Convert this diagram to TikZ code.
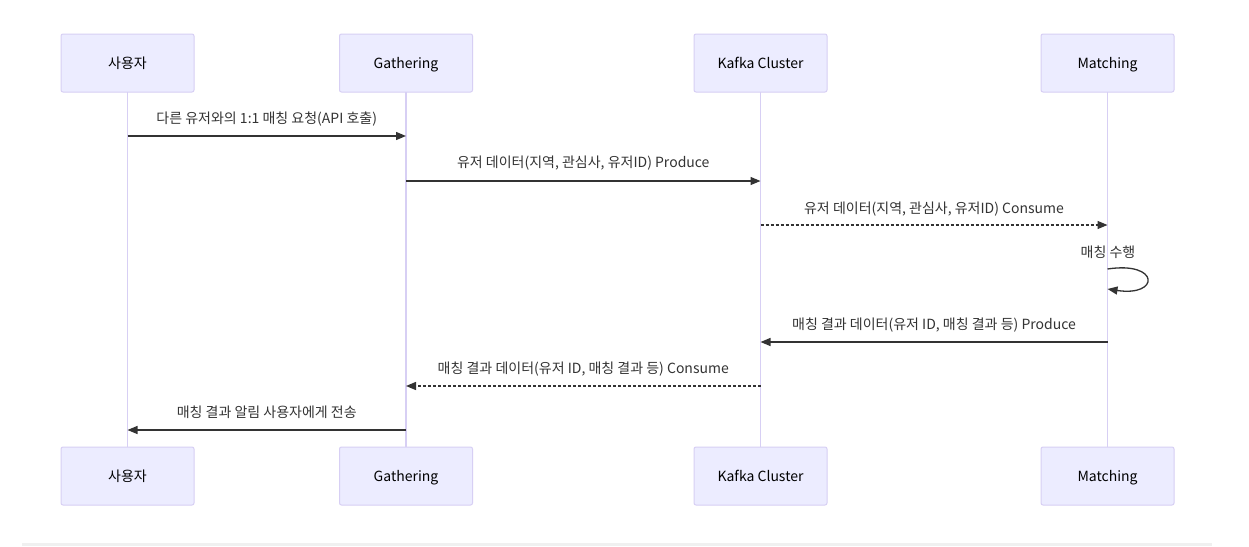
\documentclass[tikz,border=0pt]{standalone}
\usepackage{fontspec}
\setmainfont{Noto Sans CJK KR}
\usetikzlibrary{arrows.meta}
\definecolor{actfill}{HTML}{ECECFF}
\definecolor{actline}{HTML}{D7CFF4}
\definecolor{txt}{HTML}{333333}
\tikzset{
  actor/.style={draw=actline, fill=actfill, line width=1pt, rounded corners=2pt,
    minimum width=133pt, minimum height=58pt, inner sep=0pt, text height=11pt, text depth=1pt,
    font=\fontsize{14}{16}\selectfont, text=black},
  life/.style={draw=actline, line width=1.4pt},
  msg/.style={draw=txt, line width=1.3pt, -{Triangle[length=10pt,width=8pt]}},
  rmsg/.style={msg, dash pattern=on 3pt off 2pt},
  lbl/.style={font=\fontsize{14}{16}\selectfont, text=txt, inner sep=0pt, text height=11pt, text depth=1pt}
}
\begin{document}
\begin{tikzpicture}[x=1pt,y=-1pt]
\useasboundingbox (0,0) rectangle (1249,546);
\fill[white] (0,0) rectangle (1249,546);
\fill[black!6] (22,543) rectangle (1212,546);
% lifelines
\foreach \n/\x in {u/127.5,g/406,k/760.5,m/1107.5}{
  \coordinate (\n top) at (\x,92);
  \coordinate (\n bot) at (\x,447);
  \draw[life] (\n top) -- (\n bot);
}
% actors
\node[actor] (u1) at (127.5,63) {사용자};
\node[actor] (g1) at (406,63) {Gathering};
\node[actor] (k1) at (760.5,63) {Kafka Cluster};
\node[actor] (m1) at (1107.5,63) {Matching};
\node[actor] (u2) at (127.5,476) {사용자};
\node[actor] (g2) at (406,476) {Gathering};
\node[actor] (k2) at (760.5,476) {Kafka Cluster};
\node[actor] (m2) at (1107.5,476) {Matching};
% message anchors
\coordinate (a1s) at (127.5,136); \coordinate (a1e) at (406,136);
\coordinate (a2s) at (406,181);   \coordinate (a2e) at (760.5,181);
\coordinate (a3s) at (760.5,225); \coordinate (a3e) at (1107.5,225);
\coordinate (l1) at (1107.5,269); \coordinate (l2) at (1107.5,289);
\coordinate (a5s) at (1107.5,342); \coordinate (a5e) at (760.5,342);
\coordinate (a6s) at (760.5,386); \coordinate (a6e) at (406,386);
\coordinate (a7s) at (406,430); \coordinate (a7e) at (127.5,430);
\draw[msg] (a1s) -- (a1e);
\node[lbl] (t1) at (266.75,118) {다른 유저와의 1:1 매칭 요청(API 호출)};
\draw[msg] (a2s) -- (a2e);
\node[lbl] (t2) at (583.25,162) {유저 데이터(지역, 관심사, 유저ID) Produce};
\draw[rmsg] (a3s) -- (a3e);
\node[lbl] (t3) at (934,208) {유저 데이터(지역, 관심사, 유저ID) Consume};
\node[lbl] (t4) at (1108,252) {매칭 수행};
\draw[msg] (l1) .. controls (1160,261) and (1160,297) .. (l2);
\draw[msg] (a5s) -- (a5e);
\node[lbl] (t5) at (934,324) {매칭 결과 데이터(유저 ID, 매칭 결과 등) Produce};
\draw[rmsg] (a6s) -- (a6e);
\node[lbl] (t6) at (583.25,368) {매칭 결과 데이터(유저 ID, 매칭 결과 등) Consume};
\draw[msg] (a7s) -- (a7e);
\node[lbl] (t7) at (266.75,412) {매칭 결과 알림 사용자에게 전송};
\end{tikzpicture}
\end{document}
